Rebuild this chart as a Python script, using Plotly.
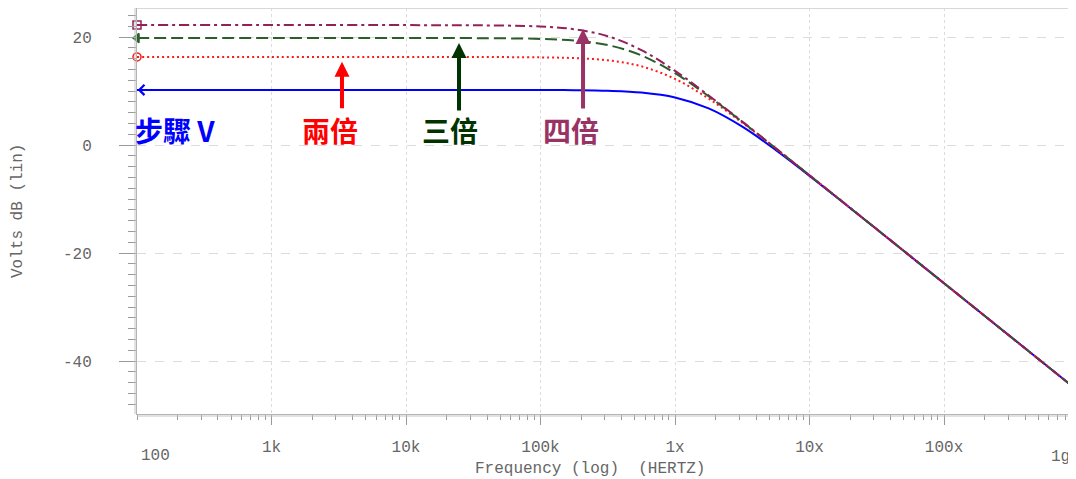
import plotly.graph_objects as go

# ---------------- data ----------------
freq_hz = [100, 1e3, 1e4, 31623, 1e5, 177828, 316228, 562341, 1e6,
           1778279, 3162278, 5623413, 1e7, 17782794, 31622777, 1e8,
           316227766, 1e9]
db_step_v = [10.2, 10.2, 10.2, 10.2, 10.18, 10.15, 10.04, 9.71, 8.80,
             6.77, 3.39, -0.95, -5.71, -10.63, -15.61, -25.6, -35.6, -45.6]
db_double = [16.3, 16.3, 16.3, 16.29, 16.23, 16.09, 15.68, 14.57, 12.24,
             8.59, 4.13, -0.69, -5.63, -10.61, -15.6, -25.6, -35.6, -45.6]
db_triple = [19.8, 19.8, 19.8, 19.79, 19.65, 19.35, 18.51, 16.59, 13.30,
             9.02, 4.28, -0.64, -5.61, -10.61, -15.6, -25.6, -35.6, -45.6]
db_quad = [22.2, 22.2, 22.2, 22.17, 21.95, 21.44, 20.15, 17.57, 13.73,
           9.18, 4.33, -0.62, -5.61, -10.6, -15.6, -25.6, -35.6, -45.6]

x_tick_vals = [1e3, 1e4, 1e5, 1e6, 1e7, 1e8]
x_tick_text = ["1k", "10k", "100k", "1x", "10x", "100x"]
y_tick_vals = [20, 0, -20, -40]
y_tick_text = ["20", "0", "-20", "-40"]

series_names = ["步驟 V", "兩倍", "三倍", "四倍"]
label_colors = ["#0000ff", "#ff0000", "#003300", "#993366"]

# ---------------- figure ----------------
AX_FONT = dict(family="Liberation Mono, DejaVu Sans Mono, monospace", size=16, color="#666666")
CJK = "Noto Sans CJK TC, Noto Sans CJK SC, sans-serif"

fig = go.Figure()

styles = [
    (db_step_v, "#0000ff", "solid"),
    (db_double, "#ff1a1a", "2px,3px"),
    (db_triple, "#2a5e2a", "12px,5px"),
    (db_quad, "#94205a", "10px,4px,3px,4px"),
]
for (vals, col, dash), name in zip(styles, series_names):
    fig.add_trace(go.Scatter(x=freq_hz, y=vals, mode="lines", name=name,
                             line=dict(color=col, width=2, dash=dash, shape="spline"),
                             showlegend=False, hoverinfo="skip"))

# start markers
marker_defs = [
    (db_double, "#ff1a1a", "circle-open", 8),
    (db_triple, "#2a5e2a", "triangle-left", 8),
    (db_quad, "#94205a", "square-open", 8),
]
for vals, col, sym, sz in marker_defs:
    fig.add_trace(go.Scatter(x=[freq_hz[0]], y=[vals[0]], mode="markers",
                             marker=dict(symbol=sym, size=sz, color=col,
                                         line=dict(color=col, width=1.5)),
                             showlegend=False, hoverinfo="skip", cliponaxis=False))

fig.update_layout(
    width=1068, height=471,
    margin=dict(l=129, r=0, t=0, b=65, autoexpand=False),
    paper_bgcolor="white", plot_bgcolor="white",
    showlegend=False,
)

fig.update_xaxes(
    type="log", range=[2, 8.981], automargin=False,
    tickmode="array", tickvals=x_tick_vals, ticktext=x_tick_text,
    ticks="outside", ticklen=10, tickcolor="#999999", tickwidth=1,
    ticklabelstandoff=8,
    tickfont=AX_FONT,
    showgrid=True, gridcolor="#dcdcdc", griddash="dot", gridwidth=1,
    minor=dict(dtick="D1", ticks="outside", ticklen=5, tickcolor="#999999", showgrid=False),
    showline=True, linecolor="#b4b4b4", linewidth=1, mirror=False,
    zeroline=False,
)
fig.update_yaxes(
    range=[-49.81, 25.37], automargin=False,
    tickmode="array", tickvals=y_tick_vals, ticktext=y_tick_text,
    ticks="outside", ticklen=17, tickcolor="#999999", tickwidth=1,
    ticklabelstandoff=24,
    tickfont=AX_FONT,
    showgrid=True, gridcolor="#dcdcdc", griddash="dash", gridwidth=1,
    minor=dict(dtick=2, tick0=0, ticks="outside", ticklen=8, tickcolor="#999999", showgrid=False),
    showline=True, linecolor="#b4b4b4", linewidth=1, mirror=False,
    zeroline=False,
)

# second (double) frame lines on left and bottom, light top border
fig.add_shape(type="line", xref="paper", yref="paper", xsizemode="pixel", xanchor=0,
              x0=-2, x1=-2, y0=0, y1=1, line=dict(color="#c4c4c4", width=1))
fig.add_shape(type="line", xref="paper", yref="paper", ysizemode="pixel", yanchor=0,
              x0=0, x1=1, y0=-2, y1=-2, line=dict(color="#c4c4c4", width=1))
fig.add_shape(type="line", xref="paper", yref="paper", x0=0, x1=1, y0=1, y1=1,
              line=dict(color="#d8d8d8", width=2))

# axis titles and staggered end labels
fig.add_annotation(text="Frequency (log)  (HERTZ)", xref="paper", yref="paper",
                   x=0.4824, y=-0.1355, xanchor="center", yanchor="middle",
                   showarrow=False, font=AX_FONT)
fig.add_annotation(text="Volts dB (lin)", xref="paper", yref="paper",
                   x=-0.1267, y=0.5, xanchor="center", yanchor="middle",
                   textangle=-90, showarrow=False, font=AX_FONT)
fig.add_annotation(text="100", xref="paper", yref="paper", x=0.0192, y=-0.1034,
                   xanchor="center", yanchor="middle", showarrow=False, font=AX_FONT)
fig.add_annotation(text="1g", xref="paper", yref="paper", x=0.983, y=-0.1059,
                   xanchor="center", yanchor="middle", showarrow=False, font=AX_FONT)

# series labels (paper coordinates)
label_pos = [(-0.0043, "left"), (0.2055, "center"), (0.3333, "center"), (0.4622, "center")]
for name, col, (lx, anc) in zip(series_names, label_colors, label_pos):
    fig.add_annotation(text="<b>%s</b>" % name, x=lx, y=0.6995, xref="paper", yref="paper",
                       xanchor=anc, yanchor="middle", showarrow=False,
                       font=dict(family=CJK, size=28, color=col))

# arrows pointing to the curves
arrow_defs = [(3.524, 15.4, 48, "#ff0000"),
              (4.394, 18.9, 69, "#003300"),
              (5.316, 21.5, 81, "#993366")]
for ax_x, ax_y, tail, col in arrow_defs:
    fig.add_annotation(text="", x=ax_x, y=ax_y, xref="x", yref="y",
                       ax=0, ay=tail, showarrow=True, arrowhead=2,
                       arrowsize=0.75, arrowwidth=4, arrowcolor=col, standoff=0)
# blue arrowhead at start of the V curve
fig.add_annotation(text="", x=2.005, y=db_step_v[0], xref="x", yref="y",
                   ax=14, ay=0, showarrow=True, arrowhead=4, arrowsize=1,
                   arrowwidth=2, arrowcolor="#0000ff", standoff=0)

fig.write_html("out.html")
